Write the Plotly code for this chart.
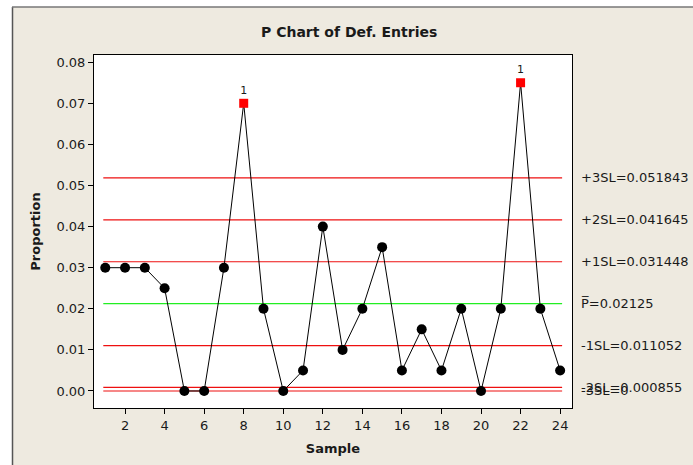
import plotly.graph_objects as go

# ---- data ----
samples = list(range(1, 25))
proportions = [0.030, 0.030, 0.030, 0.025, 0.000, 0.000, 0.030, 0.070, 0.020, 0.000,
               0.005, 0.040, 0.010, 0.020, 0.035, 0.005, 0.015, 0.005, 0.020, 0.000,
               0.020, 0.075, 0.020, 0.005]
limit_names = ["+3SL", "+2SL", "+1SL", "P", "-1SL", "-2SL", "-3SL"]
limit_values = [0.051843, 0.041645, 0.031448, 0.02125, 0.011052, 0.000855, 0.0]
limit_labels = ["+3SL=0.051843", "+2SL=0.041645", "+1SL=0.031448", "P\u0305=0.02125",
                "-1SL=0.011052", "-2SL=0.000855", "-3SL=0"]
x_ticks = list(range(2, 25, 2))
y_ticks = [0.00, 0.01, 0.02, 0.03, 0.04, 0.05, 0.06, 0.07, 0.08]
title_text = "P Chart of Def. Entries"

# ---- layout geometry (pixels) ----
W, H = 693, 465
L, R, T, B = 94, 572, 55, 408
pw, ph = R - L, B - T
def px(x):
    return (x - L) / pw
def py(y):
    return (B - y) / ph

BEIGE = "#EEEAE0"
FONT = "DejaVu Sans"
TXT = "#1a1a1a"

ucl = limit_values[0]
in_x = [s for s, p in zip(samples, proportions) if p <= ucl]
in_y = [p for p in proportions if p <= ucl]
out_x = [s for s, p in zip(samples, proportions) if p > ucl]
out_y = [p for p in proportions if p > ucl]

fig = go.Figure()

# limit lines
for name, val in zip(limit_names, limit_values):
    fig.add_trace(go.Scatter(
        x=[0.9, 24.1], y=[val, val], mode="lines",
        line=dict(color="#22ee22" if name == "P" else "#ee1010", width=1.2),
        hoverinfo="skip", showlegend=False))

# connecting line
fig.add_trace(go.Scatter(x=samples, y=proportions, mode="lines",
                         line=dict(color="black", width=1), showlegend=False))
# in-control points
fig.add_trace(go.Scatter(x=in_x, y=in_y, mode="markers",
                         marker=dict(symbol="circle", size=10, color="black"),
                         showlegend=False))
# out-of-control points
fig.add_trace(go.Scatter(x=out_x, y=out_y, mode="markers+text",
                         marker=dict(symbol="square", size=9, color="#ff0000"),
                         text=["1"] * len(out_x), textposition="top center",
                         textfont=dict(family=FONT, size=11, color=TXT),
                         showlegend=False))

annotations = []
for lab, val in zip(limit_labels, limit_values):
    annotations.append(dict(xref="paper", yref="y", x=px(579), y=val, text=lab,
                            showarrow=False, xanchor="left", yanchor="middle",
                            font=dict(family=FONT, size=13, color=TXT)))
annotations.append(dict(xref="paper", yref="paper", x=px(349), y=py(32), text="<b>" + title_text + "</b>",
                        showarrow=False, xanchor="center", yanchor="middle",
                        font=dict(family=FONT, size=14, color=TXT)))

shapes = [
    # white strips outside the beige frame
    dict(type="rect", xref="paper", yref="paper", x0=px(0), x1=px(12), y0=py(465), y1=py(0),
         fillcolor="white", line=dict(width=0), layer="below"),
    dict(type="rect", xref="paper", yref="paper", x0=px(0), x1=px(693), y0=py(7), y1=py(0),
         fillcolor="white", line=dict(width=0), layer="below"),
    # frame borders
    dict(type="line", xref="paper", yref="paper", x0=px(12.5), x1=px(12.5), y0=py(465), y1=py(7),
         line=dict(color="#555555", width=1.5)),
    dict(type="line", xref="paper", yref="paper", x0=px(12), x1=px(693), y0=py(7), y1=py(7),
         line=dict(color="#777777", width=1.5)),
]

fig.update_layout(
    width=W, height=H,
    margin=dict(l=L, r=W - R, t=T, b=H - B, pad=0),
    paper_bgcolor=BEIGE, plot_bgcolor="white",
    font=dict(family=FONT, size=13, color=TXT),
    annotations=annotations, shapes=shapes,
    showlegend=False,
)
fig.update_xaxes(range=[0.43, 24.6], tickvals=x_ticks, ticks="outside", ticklen=5,
                 tickcolor="black", showgrid=False, zeroline=False, showline=True,
                 linecolor="black", linewidth=1, mirror=True,
                 title=dict(text="<b>Sample</b>", font=dict(family=FONT, size=13, color=TXT), standoff=12),
                 tickfont=dict(family=FONT, size=13, color=TXT))
fig.update_yaxes(range=[-0.00414, 0.08175], tickvals=y_ticks, tickformat=".2f", ticks="outside",
                 ticklen=5, tickcolor="black", showgrid=False, zeroline=False, showline=True,
                 linecolor="black", linewidth=1, mirror=True,
                 title=dict(text="<b>Proportion</b>", font=dict(family=FONT, size=13, color=TXT), standoff=12),
                 tickfont=dict(family=FONT, size=13, color=TXT))

fig.write_html("out.html", config={"displayModeBar": False},
               post_script="document.body.style.margin='0';document.body.style.overflow='hidden';")
